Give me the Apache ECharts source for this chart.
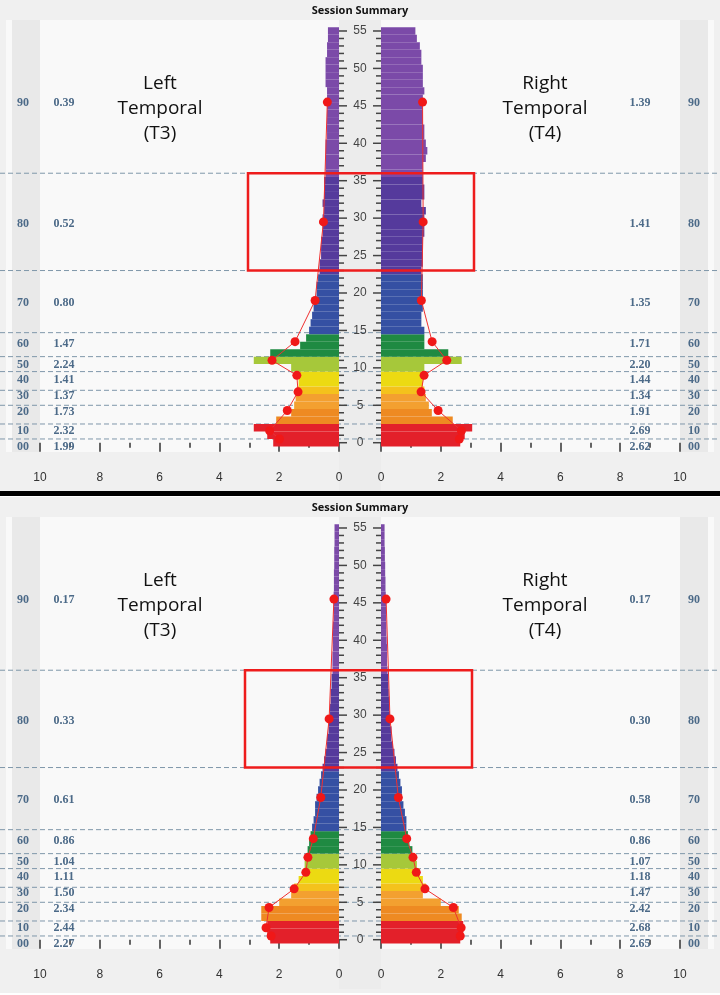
<!DOCTYPE html>
<html><head><meta charset="utf-8">
<script src="https://cdn.jsdelivr.net/npm/echarts@6/dist/echarts.min.js"></script>
<style>html,body{margin:0;padding:0;background:#fff}#c{width:720px;height:995px}</style>
</head><body><div id="c"></div>
<script>
const hzBins = Array.from({length:56},(_, i)=>i);
const yTicks = [0,5,10,15,20,25,30,35,40,45,50,55];
const bandNames = ['90','80','70','60','50','40','30','20','10','00'];
const bandHz = [45.5,29.5,19,13.5,11,9,6.8,4.3,1.6,0.5];
const boundaries = [0.5,2.5,5,7,9.5,11.5,14.7,23,36];

const topLeft = [2.2,2.4,2.85,2.1,1.6,1.5,1.45,1.4,1.35,1.35,1.6,2.85,2.3,1.3,1.1,1.0,0.95,0.9,0.85,0.8,0.75,0.75,0.7,0.65,0.65,0.6,0.6,0.6,0.55,0.55,0.55,0.5,0.55,0.5,0.5,0.5,0.45,0.45,0.45,0.45,0.45,0.4,0.4,0.4,0.4,0.4,0.4,0.4,0.45,0.45,0.45,0.45,0.4,0.4,0.37,0.37];
const topRight = [2.65,2.8,3.05,2.4,1.7,1.6,1.5,1.45,1.4,1.4,1.45,2.7,2.25,1.45,1.45,1.45,1.35,1.35,1.4,1.4,1.4,1.4,1.4,1.35,1.4,1.4,1.4,1.4,1.45,1.45,1.45,1.5,1.35,1.45,1.45,1.4,1.4,1.4,1.5,1.55,1.5,1.45,1.45,1.4,1.4,1.4,1.4,1.45,1.4,1.4,1.4,1.35,1.35,1.3,1.2,1.15];
const botLeft = [2.3,2.4,2.4,2.6,2.6,2.0,1.6,1.5,1.35,1.2,1.15,1.1,1.05,1.0,0.95,0.9,0.85,0.8,0.8,0.75,0.7,0.65,0.6,0.55,0.5,0.45,0.4,0.4,0.35,0.35,0.3,0.3,0.28,0.28,0.25,0.25,0.22,0.22,0.22,0.2,0.2,0.2,0.2,0.18,0.18,0.18,0.18,0.17,0.17,0.17,0.16,0.16,0.16,0.15,0.15,0.15];
const botRight = [2.65,2.75,2.75,2.7,2.6,2.0,1.4,1.5,1.4,1.3,1.2,1.1,1.05,0.95,0.9,0.85,0.85,0.8,0.75,0.7,0.7,0.65,0.6,0.55,0.5,0.45,0.4,0.35,0.35,0.3,0.3,0.28,0.28,0.26,0.25,0.24,0.22,0.2,0.2,0.2,0.19,0.18,0.18,0.17,0.17,0.17,0.16,0.15,0.15,0.14,0.14,0.13,0.13,0.12,0.12,0.12];
const topLeftBand = [0.39,0.52,0.80,1.47,2.24,1.41,1.37,1.73,2.32,1.99];
const topRightBand = [1.39,1.41,1.35,1.71,2.20,1.44,1.34,1.91,2.69,2.62];
const botLeftBand = [0.17,0.33,0.61,0.86,1.04,1.11,1.50,2.34,2.44,2.27];
const botRightBand = [0.17,0.30,0.58,0.86,1.07,1.18,1.47,2.42,2.68,2.65];

function colorFor(h){
  if(h<=2) return '#e3202a';
  if(h<=4) return '#ee8a22';
  if(h<=6) return '#f3a030';
  if(h<=7) return '#f4c21c';
  if(h<=9) return '#ecda12';
  if(h<=11) return '#a6c83a';
  if(h<=14) return '#1f8a42';
  if(h<=22) return '#3550a3';
  if(h<=35) return '#553a9c';
  return '#7b4aa8';
}
const chart = echarts.init(document.getElementById('c'));
const PY = [23.5, 520.5], PH = 426.7;
const grids=[], xAxes=[], yAxes=[], series=[];
const labelFont = 'bold 12px "Liberation Serif"';
const panels = [[topLeft,topRight,topLeftBand,topRightBand,[248,474]],[botLeft,botRight,botLeftBand,botRightBand,[245,472]]];
panels.forEach((p,pi)=>{
  [0,1].forEach(side=>{
    const gi = pi*2+side;
    grids.push({left: side? 381:40, width:299, top:PY[pi], height:PH});
    xAxes.push({gridIndex:gi, type:'value', min:0, max:10, interval:2, inverse: side===0,
      axisLine:{show:false}, splitLine:{show:false}, offset:11,
      axisTick:{length:9,lineStyle:{color:'#333',width:1.5}},
      minorTick:{show:true,splitNumber:2,length:5,lineStyle:{color:'#333',width:1.5}},
      axisLabel:{margin:10,color:'#333',fontSize:12,fontFamily:'Liberation Sans'}});
    yAxes.push({gridIndex:gi, type:'value', min:-1, max:56, show:false});
    const vals = p[side], band = p[2+side];
    if(side===0){
      series.push({type:'custom', xAxisIndex:gi, yAxisIndex:gi, z:1, silent:true, clip:false,
        data: boundaries.map(b=>[0,b]),
        renderItem:(params,api)=>{const y=api.coord([0,api.value(1)])[1];
          return {type:'line',shape:{x1:0,y1:y,x2:720,y2:y},style:{stroke:'#7f97aa',lineWidth:1,lineDash:[5,3]}};}});
      series.push({type:'custom', xAxisIndex:gi, yAxisIndex:gi, z:3, silent:true, clip:false,
        data: hzBins.map(h=>[0,h]),
        renderItem:(params,api)=>{const h=api.value(1);const y=api.coord([0,h])[1];const major=h%5===0;const L=major?8:5;
          const ch=[{type:'line',shape:{x1:339,y1:y,x2:339+L,y2:y},style:{stroke:'#444',lineWidth:1.5}},
                    {type:'line',shape:{x1:381-L,y1:y,x2:381,y2:y},style:{stroke:'#444',lineWidth:1.5}}];
          if(yTicks.includes(h)) ch.push({type:'text',style:{x:360,y:y,text:String(h),align:'center',verticalAlign:'middle',fill:'#444',font:'12px "Liberation Sans"'}});
          return {type:'group',children:ch};}});
    }
    series.push({type:'custom', xAxisIndex:gi, yAxisIndex:gi, z:2, silent:true,
      data: vals.map((v,i)=>[v,hzBins[i]]),
      renderItem:(params,api)=>{const v=api.value(0),h=api.value(1);
        const a=api.coord([0,h-0.5]), b=api.coord([v,h+0.5]);
        return {type:'rect',shape:{x:Math.min(a[0],b[0]),y:b[1],width:Math.abs(b[0]-a[0]),height:a[1]-b[1]},style:{fill:colorFor(h)}};}});
    series.push({type:'line', xAxisIndex:gi, yAxisIndex:gi, z:5, data: band.map((v,i)=>[v,bandHz[i]]),
      symbol:'circle', symbolSize:9, itemStyle:{color:'#f01818'}, lineStyle:{color:'#f03030',width:1}, silent:true});
    series.push({type:'custom', xAxisIndex:gi, yAxisIndex:gi, z:4, silent:true, clip:false,
      data: band.map((v,i)=>[i,bandHz[i]]),
      renderItem:(params,api)=>{const i=api.value(0);
        const ly=[45.4,29.2,18.7,13.2,10.4,8.4,6.2,4.1,1.6,-0.6][i];
        const y=api.coord([0,ly])[1];const t=band[i].toFixed(2);
        const c=side===0?[{x:23,text:bandNames[i]},{x:64,text:t}]:[{x:640,text:t},{x:694,text:bandNames[i]}];
        return {type:'group',children:c.map(o=>({type:'text',style:{x:o.x,y:y,text:o.text,align:'center',verticalAlign:'middle',fill:'#4c6a88',font:labelFont}}))};}});
    if(side===0){
      series.push({type:'custom', xAxisIndex:gi, yAxisIndex:gi, z:6, silent:true, clip:false, data:[[0,23,36]],
        renderItem:(params,api)=>{const y1=api.coord([0,api.value(2)])[1],y2=api.coord([0,api.value(1)])[1];
          return {type:'rect',shape:{x:p[4][0],y:y1,width:p[4][1]-p[4][0],height:y2-y1},style:{fill:'none',stroke:'#ee1c1c',lineWidth:2.5}};}});
    }
  });
});
const g=[];
[0,497].forEach(o=>{
  g.push({type:'rect',shape:{x:0,y:o,width:720,height:496-(o?0:3)},style:{fill:'#f0f0f0'},z:-10});
  g.push({type:'rect',shape:{x:6,y:o+20,width:708,height:432},style:{fill:'#f9f9f9'},z:-9});
  g.push({type:'rect',shape:{x:12,y:o+20,width:28,height:432},style:{fill:'#e9e9e9'},z:-8});
  g.push({type:'rect',shape:{x:680,y:o+20,width:28,height:432},style:{fill:'#e9e9e9'},z:-8});
  g.push({type:'rect',shape:{x:339,y:o+20,width:42,height:472},style:{fill:'#ececec'},z:-8});
  g.push({type:'text',style:{x:360,y:o+11,text:'Session Summary',align:'center',verticalAlign:'middle',fill:'#111',font:'bold 11px "Open Sans"'},z:5});
  ['Left','Temporal','(T3)'].forEach((t,i)=>g.push({type:'text',style:{x:160,y:o+84+i*25,text:t,align:'center',verticalAlign:'middle',fill:'#111',font:'19px "Open Sans"'},z:5}));
  ['Right','Temporal','(T4)'].forEach((t,i)=>g.push({type:'text',style:{x:545,y:o+84+i*25,text:t,align:'center',verticalAlign:'middle',fill:'#111',font:'19px "Open Sans"'},z:5}));
});
g.push({type:'rect',shape:{x:0,y:491,width:720,height:5},style:{fill:'#000'},z:5});
chart.setOption({animation:false, grid:grids, xAxis:xAxes, yAxis:yAxes, series:series, graphic:{elements:g}});
</script></body></html>
